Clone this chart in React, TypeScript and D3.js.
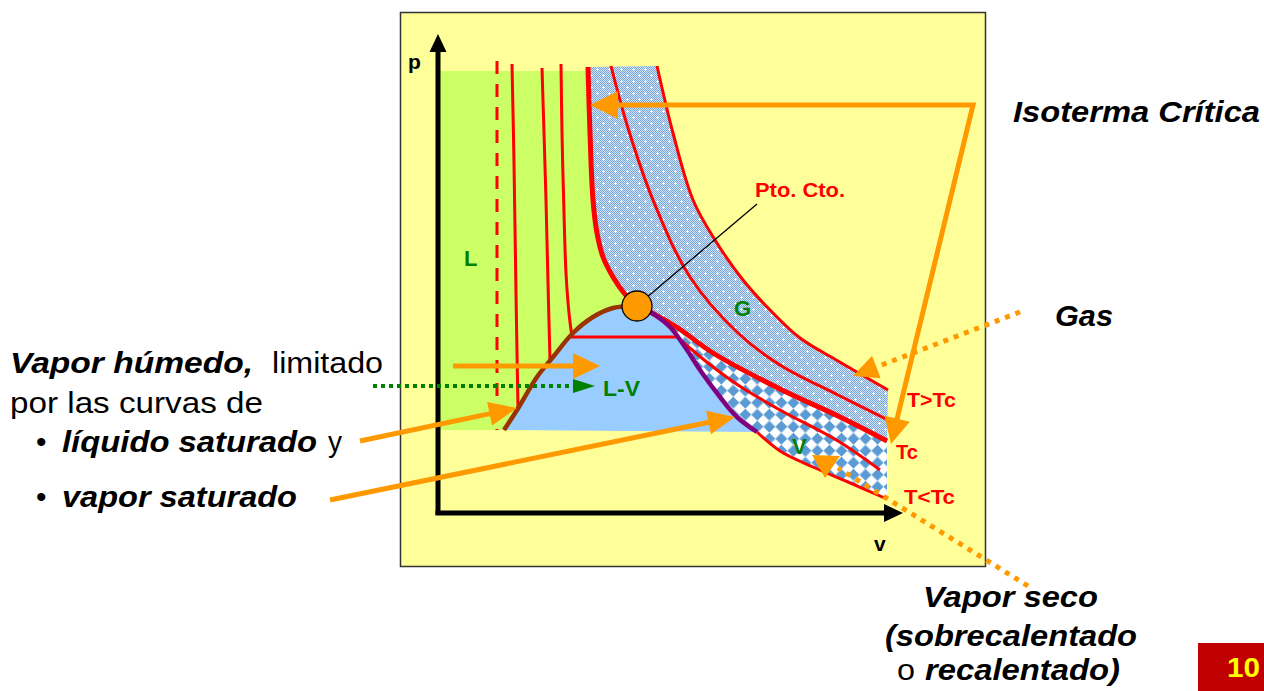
import React from 'react';
import * as d3 from 'd3';

type P = [number, number];

// Schematic p–v diagram, arbitrary units (v to the right, p upward)
const brownLiquid: P[] = [[66, 83], [79, 103], [99, 136], [115, 156], [135, 180], [155, 196], [175, 205], [199, 207]];
const purpleVapor: P[] = [[199, 207], [214, 200], [232, 186], [249, 163], [262, 143], [282, 116], [299, 96], [319, 81]];
const critUpper: P[] = [[150, 446], [152, 380], [155, 313], [159, 280], [165, 256], [175, 236], [186, 220], [199, 207]];
const critLower: P[] = [[199, 207], [214, 200], [240, 185], [275, 160], [342, 124], [400, 97], [449, 72]];
const isoA: P[] = [[173, 447], [190, 385], [215, 313], [252, 236], [300, 180], [342, 148], [400, 118], [450, 93]];
const isoB: P[] = [[219, 447], [235, 380], [255, 313], [277, 273], [305, 233], [335, 200], [362, 175], [400, 152], [450, 123]];
const iso4Left: P[] = [[123, 449], [124, 380], [126, 300], [128, 240], [131, 200], [134, 176]];
const iso4Flat: P[] = [[134, 176], [239, 176]];
const iso4Right: P[] = [[239, 176], [270, 150], [300, 128], [342, 103], [400, 72], [442, 43]];
const iso5: P[] = [[319, 81], [342, 62], [375, 46], [410, 31], [449, 14]];
const iso3: P[] = [[104, 445], [106, 380], [108, 313], [110, 230], [112, 152]];
const iso2: P[] = [[74, 449], [76, 350], [78, 220], [80, 104]];
const isoDashed: P[] = [[59, 452], [59, 83]];
const critPoint: P = [199, 207];
const liquidTop = 442;
const domeBase = 83;
const axisVEnd = 448;
const axisVTip = 465;
const axisPEnd = 462;
const axisPTip = 479;

// annotation arrows (same units)
const arrowHumedo: P[] = [[15, 147], [162, 147]];
const arrowLiquido: P[] = [[-78, 72], [79, 105]];
const arrowVapor: P[] = [[-108, 13], [297, 96]];
const arrowCritica: P[] = [[152, 408], [535, 408], [453, 69]];
const dotGas: P[] = [[582, 201], [415, 137]];
const dotSeco: P[] = [[590, -73], [400, 45]];
const dotLV: P[] = [[-65, 127], [157, 127]];
const secoHead: P[] = [[374, 58], [402, 57], [387, 35]];
const leaderPto: P[] = [[319, 309], [208, 215]];

const FONT = "'Liberation Sans', Arial, Helvetica, sans-serif";
const RED = '#FF0000';
const ORANGE = '#FF9900';
const GREEN = '#008000';

const xs = d3.scaleLinear().domain([0, 450]).range([438, 888]);
const ys = d3.scaleLinear().domain([0, 450]).range([513, 63]);

const curve = d3.line<P>().x(d => xs(d[0])).y(d => ys(d[1])).curve(d3.curveCatmullRom.alpha(0.5));
const straight = d3.line<P>().x(d => xs(d[0])).y(d => ys(d[1]));
const cont = (s: string | null) => (s || '').replace(/^M/, 'L');
const px = (d: P): P => [xs(d[0]), ys(d[1])];

function head(tipD: P, fromD: P, len: number, hw: number) {
  const tip = px(tipD), from = px(fromD);
  const dx = tip[0] - from[0], dy = tip[1] - from[1];
  const L = Math.hypot(dx, dy);
  const ux = dx / L, uy = dy / L;
  const bx = tip[0] - ux * len, by = tip[1] - uy * len;
  return {
    pts: `${tip[0]},${tip[1]} ${bx - uy * hw},${by + ux * hw} ${bx + uy * hw},${by - ux * hw}`,
    base: [bx + ux * 3, by + uy * 3] as P,
  };
}

function SolidArrow({ pts, len, hw, w = 5 }: { pts: P[]; len: number; hw: number; w?: number }) {
  const h = head(pts[1], pts[0], len, hw);
  const s = px(pts[0]);
  return (
    <g>
      <line x1={s[0]} y1={s[1]} x2={h.base[0]} y2={h.base[1]} stroke={ORANGE} strokeWidth={w} />
      <polygon points={h.pts} fill={ORANGE} />
    </g>
  );
}

function DottedArrow({ pts, len, hw, w, color, dash }: { pts: P[]; len: number; hw: number; w: number; color: string; dash: string }) {
  const h = head(pts[1], pts[0], len, hw);
  const s = px(pts[0]);
  return (
    <g>
      <line x1={s[0]} y1={s[1]} x2={h.base[0]} y2={h.base[1]} stroke={color} strokeWidth={w} strokeDasharray={dash} />
      <polygon points={h.pts} fill={color} />
    </g>
  );
}

export default function App() {
  const critFull = [...critUpper, ...critLower.slice(1)];
  const greenPath =
    straight([[0, liquidTop], [150, liquidTop]]) +
    cont(curve(critUpper)) +
    cont(curve([...brownLiquid].reverse())) +
    cont(straight([[66, domeBase], [0, domeBase]])) + 'Z';
  const gasPath =
    curve(critFull) +
    cont(straight([critLower[critLower.length - 1], isoB[isoB.length - 1]])) +
    cont(curve([...isoB].reverse())) +
    cont(straight([isoB[0], critUpper[0]])) + 'Z';
  const vapPath =
    curve(critLower) +
    cont(straight([critLower[critLower.length - 1], iso5[iso5.length - 1]])) +
    cont(curve([...iso5].reverse())) +
    cont(curve([...purpleVapor].reverse())) + 'Z';
  const domePath = curve(brownLiquid) + cont(curve(purpleVapor)) + 'Z';
  const iso4Path = curve(iso4Left) + cont(straight(iso4Flat)) + cont(curve(iso4Right));

  const cA = arrowCritica;
  const h1 = head(cA[0], cA[1], 28, 14);
  const h2 = head(cA[2], cA[1], 26, 13);
  const corner = px(cA[1]);

  const cp = px(critPoint);
  const l0 = px(leaderPto[0]), l1 = px(leaderPto[1]);
  const dsE = px(dotSeco[0]), dsS = px(dotSeco[1]);

  const yAxisX = xs(0);
  const xAxisY = ys(0);

  return (
    <svg width={1264} height={691} style={{ position: 'absolute', left: 0, top: 0, display: 'block', background: '#fff' }}>
      <defs>
        <pattern id="dith" width="2" height="2" patternUnits="userSpaceOnUse">
          <rect width="2" height="2" fill="#d2e3f6" />
          <rect width="1" height="1" fill="#78a5da" />
          <rect x="1" y="1" width="1" height="1" fill="#78a5da" />
        </pattern>
        <pattern id="gpat" width="12" height="12" patternUnits="userSpaceOnUse">
          <rect width="12" height="12" fill="url(#dith)" />
          <rect x="2" y="3" width="3" height="1" fill="#fff" />
          <rect x="3" y="2" width="1" height="3" fill="#fff" />
          <rect x="8" y="9" width="3" height="1" fill="#fff" />
          <rect x="9" y="8" width="1" height="3" fill="#fff" />
        </pattern>
        <pattern id="vpat" width="17" height="17" patternUnits="userSpaceOnUse" patternTransform="rotate(45)">
          <rect width="17" height="17" fill="#fff" />
          <rect width="8.5" height="8.5" fill="#5B9BD5" />
          <rect x="8.5" y="8.5" width="8.5" height="8.5" fill="#5B9BD5" />
        </pattern>
      </defs>

      {/* frame */}
      <rect x={400.5} y={12.5} width={585} height={554} fill="#FFFF99" stroke="#333" strokeWidth={1.5} />

      {/* regions */}
      <path d={greenPath} fill="#CCFF66" />
      <path d={gasPath} fill="url(#gpat)" />
      <path d={vapPath} fill="url(#vpat)" />
      <path d={domePath} fill="#99CCFF" />

      {/* isotherms */}
      <path d={straight(isoDashed) || ''} stroke={RED} strokeWidth={3} strokeDasharray="13,10" fill="none" />
      <path d={curve(iso2) || ''} stroke={RED} strokeWidth={3} fill="none" />
      <path d={curve(iso3) || ''} stroke={RED} strokeWidth={3} fill="none" />
      <path d={iso4Path} stroke={RED} strokeWidth={3} fill="none" />
      <path d={curve(isoA) || ''} stroke={RED} strokeWidth={3} fill="none" />
      <path d={curve(isoB) || ''} stroke={RED} strokeWidth={3} fill="none" />
      <path d={curve(iso5) || ''} stroke={RED} strokeWidth={3} fill="none" />
      <path d={curve(critFull) || ''} stroke={RED} strokeWidth={5} fill="none" />
      <path d={curve(brownLiquid) || ''} stroke="#993300" strokeWidth={4.5} fill="none" />
      <path d={curve(purpleVapor) || ''} stroke="#800080" strokeWidth={4.5} fill="none" />

      {/* axes */}
      <line x1={yAxisX} y1={xAxisY + 2} x2={yAxisX} y2={ys(axisPEnd)} stroke="#000" strokeWidth={5} />
      <polygon points={`${yAxisX},${ys(axisPTip)} ${yAxisX - 8.5},${ys(axisPEnd) + 1} ${yAxisX + 8.5},${ys(axisPEnd) + 1}`} fill="#000" />
      <line x1={yAxisX - 2.5} y1={xAxisY} x2={xs(axisVEnd)} y2={xAxisY} stroke="#000" strokeWidth={5} />
      <polygon points={`${xs(axisVTip)},${xAxisY} ${xs(axisVEnd) - 2},${xAxisY - 9} ${xs(axisVEnd) - 2},${xAxisY + 9}`} fill="#000" />
      <text x={408} y={69} fontFamily={FONT} fontWeight="bold" fontSize={21}>p</text>
      <text x={874} y={551} fontFamily={FONT} fontWeight="bold" fontSize={21}>v</text>

      {/* critical point */}
      <line x1={l0[0]} y1={l0[1]} x2={l1[0]} y2={l1[1]} stroke="#000" strokeWidth={1.3} />
      <circle cx={cp[0]} cy={cp[1]} r={15} fill={ORANGE} stroke="#000" strokeWidth={1.3} />
      <text x={755} y={197} fontFamily={FONT} fontWeight="bold" fontSize={20} fill={RED} textLength={90} lengthAdjust="spacingAndGlyphs">Pto. Cto.</text>

      {/* region labels */}
      <text x={464} y={266} fontFamily={FONT} fontWeight="bold" fontSize={22} fill={GREEN}>L</text>
      <text x={734} y={316} fontFamily={FONT} fontWeight="bold" fontSize={22} fill={GREEN}>G</text>
      <text x={603} y={396} fontFamily={FONT} fontWeight="bold" fontSize={22} fill={GREEN} textLength={37} lengthAdjust="spacingAndGlyphs">L-V</text>
      <text x={792} y={454} fontFamily={FONT} fontWeight="bold" fontSize={22} fill={GREEN}>V</text>

      <text x={907} y={407} fontFamily={FONT} fontWeight="bold" fontSize={20} fill={RED} textLength={49} lengthAdjust="spacingAndGlyphs">T&gt;Tc</text>
      <text x={896} y={459} fontFamily={FONT} fontWeight="bold" fontSize={20} fill={RED} textLength={22} lengthAdjust="spacingAndGlyphs">Tc</text>
      <text x={904} y={504} fontFamily={FONT} fontWeight="bold" fontSize={20} fill={RED} textLength={51} lengthAdjust="spacingAndGlyphs">T&lt;Tc</text>

      {/* green dotted arrow */}
      <DottedArrow pts={dotLV} len={22} hw={7} w={4} color={GREEN} dash="4,4" />

      {/* orange arrows */}
      <SolidArrow pts={arrowHumedo} len={27} hw={13} />
      <SolidArrow pts={arrowLiquido} len={28} hw={12} />
      <SolidArrow pts={arrowVapor} len={27} hw={12} />
      <polyline points={`${h1.base[0]},${h1.base[1]} ${corner[0]},${corner[1]} ${h2.base[0]},${h2.base[1]}`} fill="none" stroke={ORANGE} strokeWidth={5} />
      <polygon points={h1.pts} fill={ORANGE} />
      <polygon points={h2.pts} fill={ORANGE} />
      <DottedArrow pts={dotGas} len={25} hw={12} w={5} color={ORANGE} dash="5,6" />
      <line x1={dsE[0]} y1={dsE[1]} x2={dsS[0]} y2={dsS[1]} stroke={ORANGE} strokeWidth={5} strokeDasharray="5,6" />
      <polygon points={secoHead.map(d => px(d).join(',')).join(' ')} fill={ORANGE} />

      {/* left text */}
      <g fontFamily={FONT} fontSize={30} fill="#000">
        <text x={10} y={373} fontWeight="bold" fontStyle="italic" textLength={243} lengthAdjust="spacingAndGlyphs">Vapor  húmedo,</text>
        <text x={272} y={373} textLength={111} lengthAdjust="spacingAndGlyphs">limitado</text>
        <text x={10} y={413} textLength={253} lengthAdjust="spacingAndGlyphs">por las curvas de</text>
        <text x={36} y={452}>•</text>
        <text x={62} y={452} fontWeight="bold" fontStyle="italic" textLength={255} lengthAdjust="spacingAndGlyphs">líquido saturado</text>
        <text x={328} y={452} textLength={14} lengthAdjust="spacingAndGlyphs">y</text>
        <text x={36} y={507}>•</text>
        <text x={62} y={507} fontWeight="bold" fontStyle="italic" textLength={235} lengthAdjust="spacingAndGlyphs">vapor saturado</text>
      </g>

      {/* right text */}
      <g fontFamily={FONT} fontSize={30} fill="#000" fontWeight="bold" fontStyle="italic">
        <text x={1013} y={122} textLength={247} lengthAdjust="spacingAndGlyphs">Isoterma Crítica</text>
        <text x={1055} y={326} textLength={58} lengthAdjust="spacingAndGlyphs">Gas</text>
        <text x={923} y={607} textLength={175} lengthAdjust="spacingAndGlyphs">Vapor seco</text>
        <text x={885} y={646} textLength={252} lengthAdjust="spacingAndGlyphs">(sobrecalentado</text>
        <text x={897} y={680} fontWeight="normal" fontStyle="normal" textLength={18} lengthAdjust="spacingAndGlyphs">o</text>
        <text x={925} y={680} textLength={195} lengthAdjust="spacingAndGlyphs">recalentado)</text>
      </g>

      {/* slide number */}
      <rect x={1198} y={643} width={66} height={48} fill="#C00000" />
      <text x={1227} y={677} fontFamily={FONT} fontWeight="bold" fontSize={28} fill="#FFFF00" textLength={33} lengthAdjust="spacingAndGlyphs">10</text>
    </svg>
  );
}
